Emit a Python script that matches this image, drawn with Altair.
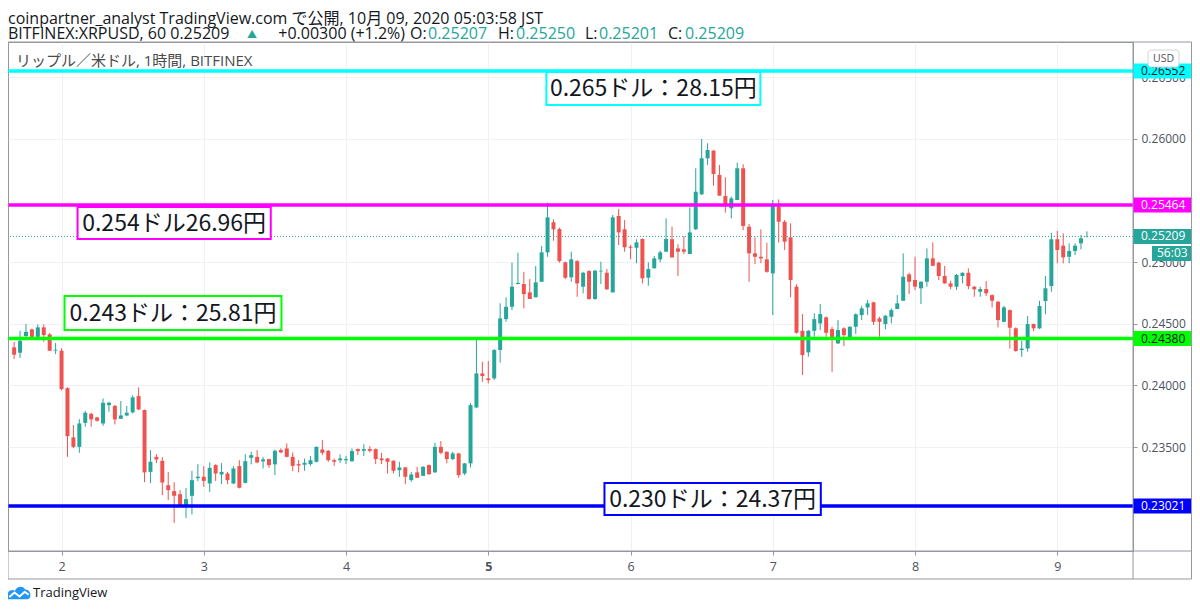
import altair as alt
import pandas as pd

# ---- 1-hour candles, BITFINEX XRP/USD, first candle = Oct 1 16:00 (hours since Oct 1 00:00) ----
FIRST_HOUR = 16
opens = [0.24309, 0.24265, 0.24400, 0.24455, 0.24394, 0.24471, 0.24414, 0.24283, 0.24281, 0.23978,
         0.23578, 0.23501, 0.23696, 0.23769, 0.23740, 0.23691, 0.23840, 0.23834, 0.23729, 0.23756,
         0.23781, 0.23913, 0.23800, 0.23298, 0.23420, 0.23388, 0.23190, 0.23142, 0.23117, 0.23028,
         0.23104, 0.23247, 0.23258, 0.23204, 0.23353, 0.23277, 0.23285, 0.23204, 0.23345, 0.23209,
         0.23412, 0.23420, 0.23383, 0.23402, 0.23359, 0.23475, 0.23488, 0.23420, 0.23361, 0.23356,
         0.23361, 0.23380, 0.23480, 0.23469, 0.23393, 0.23393, 0.23393, 0.23385, 0.23483, 0.23469,
         0.23483, 0.23483, 0.23407, 0.23407, 0.23388, 0.23312, 0.23334, 0.23231, 0.23294, 0.23266,
         0.23353, 0.23294, 0.23501, 0.23461, 0.23402, 0.23448, 0.23285, 0.23367, 0.23821, 0.24097,
         0.24057, 0.24057, 0.24287, 0.24538, 0.24638, 0.24823, 0.24823, 0.24755, 0.24715, 0.24841,
         0.25080, 0.25324, 0.25269, 0.24999, 0.24877, 0.25009, 0.24801, 0.24928, 0.24701, 0.24925,
         0.24914, 0.24755, 0.25375, 0.25267, 0.25125, 0.25117, 0.25188, 0.24874, 0.24950, 0.25023,
         0.25085, 0.25186, 0.25112, 0.25104, 0.25066, 0.25267, 0.25551, 0.25843, 0.25905, 0.25708,
         0.25537, 0.25437, 0.25505, 0.25762, 0.25288, 0.25072, 0.25044, 0.25023, 0.24909, 0.25450,
         0.25328, 0.25202, 0.24801, 0.24443, 0.24268, 0.24443, 0.24503, 0.24552, 0.24457, 0.24341,
         0.24463, 0.24390, 0.24476, 0.24571, 0.24633, 0.24674, 0.24544, 0.24498, 0.24557, 0.24620,
         0.24687, 0.24901, 0.24855, 0.24788, 0.24841, 0.25031, 0.24996, 0.24888, 0.24828, 0.24801,
         0.24888, 0.24914, 0.24801, 0.24760, 0.24782, 0.24733, 0.24679, 0.24516, 0.24611, 0.24463,
         0.24287, 0.24300, 0.24498, 0.24463, 0.24685, 0.24806, 0.25186, 0.25134, 0.25044, 0.25091,
         0.25153, 0.25207]
highs = [0.24352, 0.24443, 0.24498, 0.24460, 0.24495, 0.24495, 0.24425, 0.24344, 0.24300, 0.23985,
         0.23678, 0.23726, 0.23794, 0.23778, 0.23745, 0.23894, 0.23867, 0.23840, 0.23873, 0.23834,
         0.23919, 0.23984, 0.23805, 0.23475, 0.23442, 0.23418, 0.23298, 0.23215, 0.23150, 0.23166,
         0.23307, 0.23361, 0.23345, 0.23375, 0.23360, 0.23369, 0.23298, 0.23345, 0.23393, 0.23442,
         0.23461, 0.23475, 0.23420, 0.23405, 0.23480, 0.23489, 0.23529, 0.23456, 0.23393, 0.23407,
         0.23426, 0.23505, 0.23556, 0.23475, 0.23407, 0.23440, 0.23428, 0.23488, 0.23488, 0.23523,
         0.23507, 0.23488, 0.23453, 0.23410, 0.23393, 0.23380, 0.23339, 0.23298, 0.23339, 0.23345,
         0.23359, 0.23534, 0.23548, 0.23465, 0.23461, 0.23453, 0.23370, 0.23856, 0.24368, 0.24192,
         0.24197, 0.24295, 0.24666, 0.24715, 0.24996, 0.25077, 0.24922, 0.24863, 0.24969, 0.25131,
         0.25483, 0.25348, 0.25280, 0.25005, 0.25085, 0.25017, 0.24922, 0.24935, 0.24938, 0.25004,
         0.24944, 0.25383, 0.25432, 0.25342, 0.25139, 0.25186, 0.25194, 0.24999, 0.25050, 0.25093,
         0.25356, 0.25288, 0.25145, 0.25212, 0.25445, 0.25762, 0.26000, 0.25965, 0.25910, 0.25789,
         0.25689, 0.25532, 0.25808, 0.25795, 0.25310, 0.25202, 0.25267, 0.25158, 0.25505, 0.25510,
         0.25342, 0.25315, 0.24820, 0.24579, 0.24450, 0.24585, 0.24660, 0.24560, 0.24476, 0.24530,
         0.24471, 0.24480, 0.24585, 0.24646, 0.24693, 0.24680, 0.24557, 0.24571, 0.24625, 0.24733,
         0.25072, 0.24914, 0.25044, 0.24845, 0.25112, 0.25161, 0.25004, 0.24969, 0.24849, 0.24904,
         0.24918, 0.24950, 0.24805, 0.24801, 0.24847, 0.24738, 0.24685, 0.24646, 0.24617, 0.24471,
         0.24362, 0.24563, 0.24502, 0.24687, 0.24888, 0.25239, 0.25253, 0.25234, 0.25153, 0.25153,
         0.25220, 0.25250]
lows = [0.24214, 0.24222, 0.24394, 0.24390, 0.24394, 0.24354, 0.24281, 0.24254, 0.23960, 0.23420,
        0.23491, 0.23453, 0.23664, 0.23664, 0.23705, 0.23672, 0.23786, 0.23683, 0.23729, 0.23750,
        0.23773, 0.23800, 0.23215, 0.23207, 0.23369, 0.23109, 0.23069, 0.22884, 0.23020, 0.22923,
        0.22953, 0.23223, 0.23177, 0.23136, 0.23225, 0.23199, 0.23199, 0.23199, 0.23164, 0.23204,
        0.23359, 0.23367, 0.23326, 0.23331, 0.23272, 0.23450, 0.23415, 0.23304, 0.23294, 0.23307,
        0.23347, 0.23375, 0.23434, 0.23380, 0.23347, 0.23372, 0.23361, 0.23380, 0.23434, 0.23428,
        0.23456, 0.23361, 0.23361, 0.23285, 0.23285, 0.23258, 0.23199, 0.23218, 0.23250, 0.23266,
        0.23272, 0.23291, 0.23442, 0.23367, 0.23393, 0.23250, 0.23272, 0.23334, 0.23815, 0.24029,
        0.24016, 0.24043, 0.24184, 0.24516, 0.24611, 0.24820, 0.24625, 0.24701, 0.24715, 0.24841,
        0.25044, 0.25174, 0.24996, 0.24863, 0.24841, 0.24719, 0.24747, 0.24695, 0.24695, 0.24823,
        0.24774, 0.24755, 0.25139, 0.25085, 0.25023, 0.24991, 0.24828, 0.24809, 0.24950, 0.24999,
        0.25085, 0.25039, 0.24888, 0.25066, 0.25066, 0.25261, 0.25545, 0.25789, 0.25621, 0.25540,
        0.25402, 0.25356, 0.25505, 0.25261, 0.24841, 0.24985, 0.24991, 0.24914, 0.24571, 0.25158,
        0.25099, 0.24715, 0.24420, 0.24084, 0.24232, 0.24394, 0.24449, 0.24394, 0.24110, 0.24335,
        0.24319, 0.24385, 0.24417, 0.24530, 0.24571, 0.24490, 0.24394, 0.24455, 0.24503, 0.24620,
        0.24687, 0.24741, 0.24774, 0.24660, 0.24801, 0.24971, 0.24855, 0.24823, 0.24780, 0.24774,
        0.24828, 0.24780, 0.24719, 0.24719, 0.24725, 0.24633, 0.24471, 0.24511, 0.24300, 0.24273,
        0.24232, 0.24273, 0.24441, 0.24458, 0.24579, 0.24760, 0.24991, 0.24991, 0.24991, 0.25058,
        0.25104, 0.25201]
closes = [0.24249, 0.24362, 0.24435, 0.24394, 0.24471, 0.24408, 0.24281, 0.24289, 0.23970, 0.23588,
          0.23501, 0.23691, 0.23778, 0.23724, 0.23713, 0.23859, 0.23859, 0.23724, 0.23756, 0.23778,
          0.23903, 0.23805, 0.23294, 0.23380, 0.23399, 0.23212, 0.23150, 0.23104, 0.23028, 0.23077,
          0.23231, 0.23259, 0.23225, 0.23331, 0.23285, 0.23298, 0.23231, 0.23326, 0.23169, 0.23385,
          0.23434, 0.23375, 0.23399, 0.23353, 0.23469, 0.23456, 0.23420, 0.23347, 0.23350, 0.23372,
          0.23393, 0.23501, 0.23453, 0.23393, 0.23380, 0.23407, 0.23402, 0.23467, 0.23467, 0.23483,
          0.23469, 0.23402, 0.23393, 0.23380, 0.23307, 0.23334, 0.23258, 0.23277, 0.23250, 0.23339,
          0.23280, 0.23501, 0.23453, 0.23402, 0.23448, 0.23272, 0.23367, 0.23840, 0.24097, 0.24076,
          0.24043, 0.24287, 0.24544, 0.24638, 0.24801, 0.24831, 0.24741, 0.24701, 0.24836, 0.25080,
          0.25364, 0.25267, 0.25009, 0.24874, 0.25023, 0.24828, 0.24914, 0.24701, 0.24931, 0.24931,
          0.24780, 0.25364, 0.25242, 0.25121, 0.25117, 0.25161, 0.24869, 0.24944, 0.25031, 0.25080,
          0.25188, 0.25039, 0.25085, 0.25085, 0.25242, 0.25572, 0.25843, 0.25911, 0.25716, 0.25540,
          0.25456, 0.25518, 0.25762, 0.25294, 0.25072, 0.25044, 0.25031, 0.24922, 0.25464, 0.25328,
          0.25166, 0.24855, 0.24427, 0.24246, 0.24443, 0.24538, 0.24579, 0.24427, 0.24390, 0.24449,
          0.24408, 0.24476, 0.24577, 0.24625, 0.24666, 0.24516, 0.24516, 0.24565, 0.24611, 0.24666,
          0.24882, 0.24841, 0.24801, 0.24841, 0.25031, 0.24971, 0.24888, 0.24828, 0.24801, 0.24896,
          0.24914, 0.24806, 0.24780, 0.24782, 0.24747, 0.24687, 0.24530, 0.24633, 0.24468, 0.24279,
          0.24299, 0.24498, 0.24463, 0.24644, 0.24788, 0.25186, 0.25099, 0.25039, 0.25091, 0.25134,
          0.25194, 0.25209]

day_ticks = [24, 48, 72, 96, 120, 144, 168, 192]          # hours -> days 2..9
price_ticks = [0.235, 0.240, 0.245, 0.250, 0.260, 0.265]   # 0.230 / 0.255 sit under level labels

levels = [0.26552, 0.25464, 0.24380, 0.23021]
level_colors = ["#00ffff", "#ff00ff", "#00ff00", "#0000ff"]
level_text_colors = ["#131722", "#ffffff", "#131722", "#ffffff"]
last_price = 0.25209
countdown = "56:03"

notes = ["0.265ドル：28.15円", "0.254ドル26.96円", "0.243ドル：25.81円", "0.230ドル：24.37円"]
note_t0 = [105.8, 26.7, 24.5, 115.6]
note_t1 = [141.9, 59.3, 61.1, 152.1]
note_top = [0.26544, 0.25448, 0.24726, 0.23208]
note_bot = [0.26276, 0.25188, 0.24450, 0.22948]

UP, DOWN, TEAL = "#26a69a", "#ef5350", "#26a69a"
FONT = "'Open Sans', 'Noto Sans CJK JP', sans-serif"
JFONT = "'Noto Sans CJK JP', sans-serif"
W, H = 1125, 509

candles = pd.DataFrame({
    "t": [FIRST_HOUR + i for i in range(len(opens))],
    "open": opens, "high": highs, "low": lows, "close": closes,
})
candles["col"] = [UP if c >= o else DOWN for o, c in zip(opens, closes)]

lv = pd.DataFrame({"price": levels, "col": level_colors, "tcol": level_text_colors})
cur = pd.DataFrame({"price": [last_price], "cd": [countdown]})
nt = pd.DataFrame({"text": notes, "t0": note_t0, "t1": note_t1, "top": note_top,
                   "bot": note_bot, "col": level_colors})

xs = alt.Scale(domain=[15.81, 203.93], nice=False, zero=False)
ys = alt.Scale(domain=[0.22656, 0.26787], nice=False, zero=False)

XA = alt.Axis(values=day_ticks, labelExpr="format(datum.value/24+1, 'd')", title=None,
              grid=True, gridColor="#eef1f6", tickSize=4, tickColor="#9598a1",
              domainColor="#9598a1", labelPadding=5, labelFontSize=12.5,
              labelColor="#4c525e", labelFont=FONT, labelOverlap=False, labelFlush=False,
              labelFontWeight={"condition": {"test": "datum.value == 96", "value": "bold"},
                               "value": "normal"})
YA = alt.Axis(orient="right", values=price_ticks, format=".5f", title=None, grid=True,
              gridColor="#eef1f6", tickSize=4, tickColor="#9598a1", domainColor="#9598a1",
              labelPadding=4, labelFontSize=12, labelColor="#4c525e", labelFont=FONT,
              labelOverlap=False, labelFlush=False)


def X(f):
    return alt.X(f, scale=xs, axis=XA)


def Y(f):
    return alt.Y(f, scale=ys, axis=YA)


one = alt.Data(values=[{"k": 1}])


def txt(s, x, y, size=16, color="#131722", align="left", baseline="alphabetic",
        font=FONT, weight="normal"):
    return alt.Chart(one).mark_text(align=align, baseline=baseline, fontSize=size, font=font,
                                    color=color, fontWeight=weight).encode(
        x=alt.value(x), y=alt.value(y), text=alt.value(s))


wicks = alt.Chart(candles).mark_rule(strokeWidth=1).encode(
    x=X("t:Q"), y=Y("low:Q"), y2="high:Q", color=alt.Color("col:N", scale=None))

dotted = alt.Chart(cur).mark_rule(strokeDash=[1, 2], strokeWidth=1, color=TEAL).encode(
    y=Y("price:Q"))

bodies = alt.Chart(candles).mark_bar(size=4).encode(
    x=X("t:Q"), y=Y("open:Q"), y2="close:Q", color=alt.Color("col:N", scale=None))

level_lines = alt.Chart(lv).mark_rule(strokeWidth=3.5).encode(
    y=Y("price:Q"), color=alt.Color("col:N", scale=None))

note_boxes = alt.Chart(nt).mark_rect(fill="white", strokeWidth=2).encode(
    x=X("t0:Q"), x2="t1:Q", y=Y("top:Q"), y2="bot:Q",
    stroke=alt.Stroke("col:N", scale=None))

note_text = alt.Chart(nt).transform_calculate(
    tc="(datum.t0 + datum.t1) / 2", pc="(datum.top + datum.bot) / 2"
).mark_text(fontSize=23, font=JFONT, color="#131722", align="center", baseline="middle",
            dy=1).encode(x=X("tc:Q"), y=Y("pc:Q"), text="text:N")

lab_boxes = alt.Chart(lv).transform_calculate(
    lo="datum.price - 0.00061", hi="datum.price + 0.00061"
).mark_rect().encode(
    x=alt.value(W), x2=alt.value(W + 59), y=Y("lo:Q"), y2="hi:Q",
    color=alt.Color("col:N", scale=None))

lab_text = alt.Chart(lv).mark_text(align="left", baseline="middle", fontSize=12, font=FONT).encode(
    x=alt.value(W + 8), y=Y("price:Q"),
    text=alt.Text("price:Q", format=".5f"), color=alt.Color("tcol:N", scale=None))

cur_box = alt.Chart(cur).transform_calculate(
    lo="datum.price - 0.00061", hi="datum.price + 0.00061"
).mark_rect(color=TEAL).encode(
    x=alt.value(W), x2=alt.value(W + 59), y=Y("lo:Q"), y2="hi:Q")

cur_text = alt.Chart(cur).mark_text(align="left", baseline="middle", fontSize=12, font=FONT,
                                    color="white").encode(
    x=alt.value(W + 8), y=Y("price:Q"), text=alt.Text("price:Q", format=".5f"))

cd_box = alt.Chart(cur).transform_calculate(
    lo="datum.price - 0.00061", hi="datum.price + 0.00061"
).mark_rect(color=TEAL, yOffset=17, y2Offset=17).encode(
    x=alt.value(W + 19), x2=alt.value(W + 59), y=Y("lo:Q"), y2="hi:Q")

cd_text = alt.Chart(cur).mark_text(align="left", baseline="middle", fontSize=12, font=FONT,
                                   color="white", yOffset=17).encode(
    x=alt.value(W + 24), y=Y("price:Q"), text="cd:N")

frame = alt.Chart(one).mark_rect(fillOpacity=0, stroke="#9598a1", strokeWidth=1).encode(
    x=alt.value(0), x2=alt.value(W + 58.5), y=alt.value(0), y2=alt.value(H + 28))
sep_h = alt.Chart(one).mark_rule(color="#9598a1", strokeWidth=1).encode(
    x=alt.value(0), x2=alt.value(W + 59), y=alt.value(H))
sep_v = alt.Chart(one).mark_rule(color="#9598a1", strokeWidth=1).encode(
    x=alt.value(W), y=alt.value(0), y2=alt.value(H + 28))

usd_box = alt.Chart(one).mark_rect(fill="white", stroke="#d1d4dc", strokeWidth=1,
                                   cornerRadius=3).encode(
    x=alt.value(W + 15), x2=alt.value(W + 46), y=alt.value(8), y2=alt.value(25))
usd_text = txt("USD", W + 30.5, 16.5, size=10.5, color="#4c525e", align="center",
               baseline="middle")

CLOUD = ("M-1,0.55 L-1,0.15 C-1,-0.2 -0.6,-0.35 -0.35,-0.2 C-0.2,-0.6 0.35,-0.7 0.55,-0.3 "
         "C0.9,-0.3 1,0 1,0.25 C1,0.45 0.85,0.55 0.7,0.55 Z")
ZIG = "M-0.85,0.35 L-0.4,-0.05 L0.05,0.3 L0.5,-0.1 L0.85,0.15"
logo_cloud = alt.Chart(one).mark_point(shape=CLOUD, filled=True, color="#2196f3", size=520,
                                       opacity=1).encode(x=alt.value(11), y=alt.value(551))
logo_zig = alt.Chart(one).mark_point(shape=ZIG, filled=False, color="white", strokeWidth=2,
                                     size=520, opacity=1).encode(x=alt.value(11), y=alt.value(551))

L1, L2 = -18.5, -3
header = [
    txt("coinpartner_analyst TradingView.com で公開, 10月 09, 2020 05:03:58 JST", 0, L1),
    txt("BITFINEX:XRPUSD, 60 0.25209", 0, L2),
    txt("▲", 244, L2 - 1, size=10, color=TEAL, align="center"),
    txt("+0.00300 (+1.2%)", 397, L2, align="right"),
    txt("O:", 402, L2), txt("0.25207", 420, L2, color=TEAL),
    txt("H:", 490, L2), txt("0.25250", 508, L2, color=TEAL),
    txt("L:", 577, L2), txt("0.25201", 591, L2, color=TEAL),
    txt("C:", 660, L2), txt("0.25209", 677, L2, color=TEAL),
    txt("リップル／米ドル, 1時間, BITFINEX", 8, 24, size=15, color="#4a4a4a"),
    txt("TradingView", 25, 551, size=13, color="#131722", baseline="middle"),
]

chart = alt.layer(
    wicks, dotted, bodies, level_lines, note_boxes, note_text,
    lab_boxes, lab_text, cur_box, cur_text, cd_box, cd_text,
    frame, sep_h, sep_v, usd_box, usd_text, logo_cloud, logo_zig, *header
).properties(
    width=W, height=H,
    autosize=alt.AutoSizeParams(type="none"),
    padding={"left": 0, "top": 34, "right": 59, "bottom": 49},
    background="white",
).configure_view(stroke="#9598a1", strokeWidth=1)

chart.save("out.html", embed_options={"renderer": "svg", "actions": False})
